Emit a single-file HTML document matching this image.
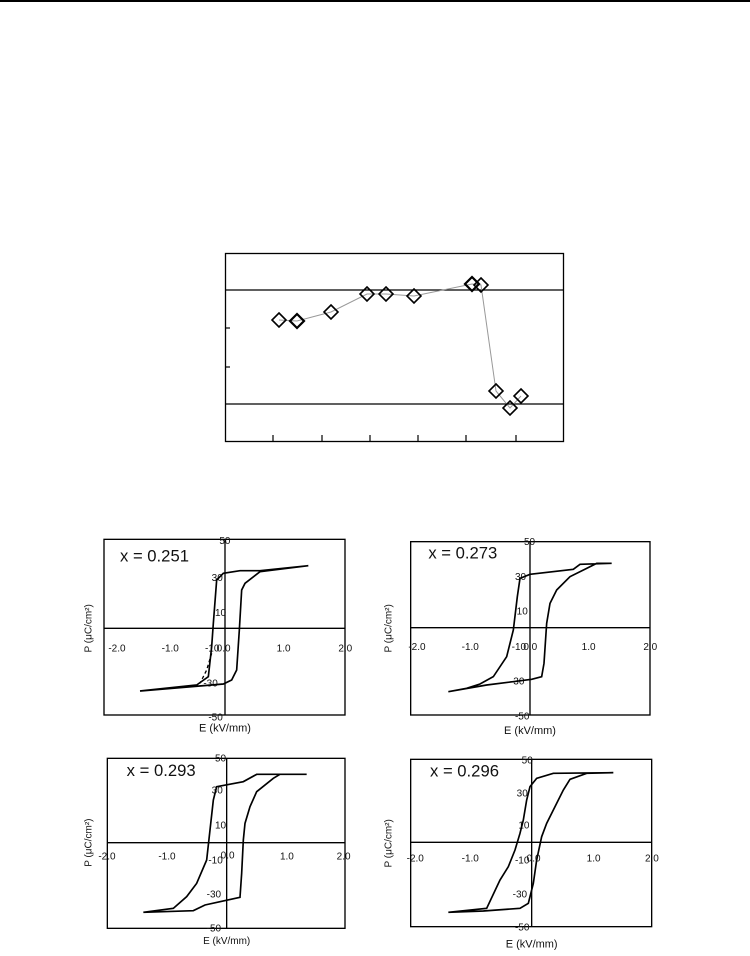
<!DOCTYPE html>
<html><head><meta charset="utf-8"><style>
html,body{margin:0;padding:0;background:#fff;width:750px;height:956px;overflow:hidden}
svg{display:block}
text{font-family:"Liberation Sans",sans-serif;fill:#111}
</style></head><body>
<svg width="750" height="956" viewBox="0 0 750 956" xmlns="http://www.w3.org/2000/svg">
<line x1="0" y1="1" x2="750" y2="1" stroke="#000" stroke-width="2"/>
<!-- top chart -->
<rect x="225.5" y="253.5" width="338" height="188" fill="none" stroke="#000" stroke-width="1.3"/>
<line x1="225" y1="290" x2="564" y2="290" stroke="#000" stroke-width="1.3"/>
<line x1="225" y1="404" x2="564" y2="404" stroke="#000" stroke-width="1.3"/>
<g stroke="#000" stroke-width="1.2">
<line x1="225" y1="328" x2="230" y2="328"/><line x1="225" y1="367" x2="230" y2="367"/>
<line x1="273" y1="441" x2="273" y2="435"/><line x1="322" y1="441" x2="322" y2="435"/>
<line x1="370" y1="441" x2="370" y2="435"/><line x1="418" y1="441" x2="418" y2="435"/>
<line x1="466" y1="441" x2="466" y2="435"/><line x1="516" y1="441" x2="516" y2="435"/>
</g>
<polyline points="279,320 297,321 331,312 367,294 386,294 414,296 472,284 481,285 496,391 510,408 521,396" fill="none" stroke="#999" stroke-width="1"/>
<g fill="none" stroke="#000" stroke-width="1.6">
<path d="M279,313 l7,7 l-7,7 l-7,-7z"/>
<path d="M297,314 l7,7 l-7,7 l-7,-7z" stroke-width="2.2"/>
<path d="M331,305 l7,7 l-7,7 l-7,-7z"/>
<path d="M367,287 l7,7 l-7,7 l-7,-7z"/>
<path d="M386,287 l7,7 l-7,7 l-7,-7z"/>
<path d="M414,289 l7,7 l-7,7 l-7,-7z"/>
<path d="M472,277 l7,7 l-7,7 l-7,-7z" stroke-width="2.2"/>
<path d="M481,278 l7,7 l-7,7 l-7,-7z"/>
<path d="M496,384 l7,7 l-7,7 l-7,-7z"/>
<path d="M510,401 l7,7 l-7,7 l-7,-7z"/>
<path d="M521,389 l7,7 l-7,7 l-7,-7z"/>
</g>

<!-- Panel 1 -->
<g transform="translate(80,530) scale(0.33333)">
<rect x="72" y="28" width="723" height="527" fill="none" stroke="#000" stroke-width="4"/>
<line x1="435" y1="28" x2="435" y2="555" stroke="#000" stroke-width="4"/>
<line x1="72" y1="295" x2="795" y2="295" stroke="#000" stroke-width="4"/>
<text x="120" y="95" font-size="50">x = 0.251</text>
<g font-size="30"><text x="418" y="42">50</text><text x="395" y="153">30</text><text x="405" y="258">10</text><text x="375" y="365">-10</text><text x="410" y="365">0.0</text><text x="370" y="470">-30</text><text x="385" y="572">-50</text>
<text x="85" y="365">-2.0</text><text x="245" y="365">-1.0</text><text x="590" y="365">1.0</text><text x="775" y="365">2.0</text></g>
<text x="435" y="605" font-size="33" text-anchor="middle">E (kV/mm)</text>
<text transform="translate(35,295) rotate(-90)" font-size="30" text-anchor="middle">P (μC/cm²)</text>
<path d="M685,107 L540,122 L480,122 L430,130 L410,150 L400,280 L395,350 L385,440 L350,465 L180,483 M180,483 L430,462 L455,450 L470,420 L478,300 L485,180 L495,160 L540,125 L685,107" fill="none" stroke="#000" stroke-width="5"/>
<path d="M395,370 L380,420 L360,460" fill="none" stroke="#000" stroke-width="4" stroke-dasharray="10,8"/>
</g>

<!-- Panel 2 -->
<g transform="translate(380,530) scale(0.33333)">
<rect x="92" y="35" width="718" height="520" fill="none" stroke="#000" stroke-width="4"/>
<line x1="450" y1="35" x2="450" y2="555" stroke="#000" stroke-width="4"/>
<line x1="92" y1="293" x2="810" y2="293" stroke="#000" stroke-width="4"/>
<text x="145" y="85" font-size="50">x = 0.273</text>
<g font-size="30"><text x="432" y="45">50</text><text x="405" y="150">30</text><text x="410" y="253">10</text><text x="395" y="360">-10</text><text x="430" y="360">0.0</text><text x="390" y="463">-30</text><text x="405" y="568">-50</text>
<text x="85" y="360">-2.0</text><text x="245" y="360">-1.0</text><text x="605" y="360">1.0</text><text x="790" y="360">2.0</text></g>
<text x="450" y="612" font-size="33" text-anchor="middle">E (kV/mm)</text>
<text transform="translate(35,295) rotate(-90)" font-size="30" text-anchor="middle">P (μC/cm²)</text>
<path d="M695,100 L600,103 L580,118 L450,133 L420,145 L412,200 L400,300 L380,380 L340,440 L300,462 L260,475 L205,485 M205,485 L320,465 L455,448 L485,440 L492,400 L500,280 L510,220 L530,180 L570,140 L620,115 L650,100 L695,100" fill="none" stroke="#000" stroke-width="5"/>
</g>

<!-- Panel 3 -->
<g transform="translate(80,740) scale(0.33333)">
<rect x="82" y="55" width="713" height="510" fill="none" stroke="#000" stroke-width="4"/>
<line x1="440" y1="55" x2="440" y2="565" stroke="#000" stroke-width="4"/>
<line x1="82" y1="308" x2="795" y2="308" stroke="#000" stroke-width="4"/>
<text x="140" y="108" font-size="50">x = 0.293</text>
<g font-size="30"><text x="405" y="65">50</text><text x="395" y="160">30</text><text x="405" y="265">10</text><text x="385" y="370">-10</text><text x="422" y="355">0.0</text><text x="380" y="472">-30</text><text x="380" y="575">-50</text>
<text x="55" y="358">-2.0</text><text x="235" y="358">-1.0</text><text x="600" y="358">1.0</text><text x="770" y="358">2.0</text></g>
<text x="440" y="612" font-size="30" text-anchor="middle">E (kV/mm)</text>
<text transform="translate(35,308) rotate(-90)" font-size="30" text-anchor="middle">P (μC/cm²)</text>
<path d="M680,103 L530,103 L490,125 L410,140 L400,180 L390,270 L380,360 L350,430 L320,470 L280,505 L190,517 M190,517 L340,512 L375,495 L420,485 L480,472 L485,400 L490,300 L495,250 L510,200 L530,155 L580,115 L600,103 L680,103" fill="none" stroke="#000" stroke-width="5"/>
</g>

<!-- Panel 4 -->
<g transform="translate(380,740) scale(0.33333)">
<rect x="92" y="58" width="723" height="502" fill="none" stroke="#000" stroke-width="4"/>
<line x1="455" y1="58" x2="455" y2="560" stroke="#000" stroke-width="4"/>
<line x1="92" y1="307" x2="815" y2="307" stroke="#000" stroke-width="4"/>
<text x="150" y="110" font-size="50">x = 0.296</text>
<g font-size="30"><text x="425" y="70">50</text><text x="410" y="170">30</text><text x="415" y="265">10</text><text x="405" y="370">-10</text><text x="440" y="365">0.0</text><text x="398" y="472">-30</text><text x="405" y="572">-50</text>
<text x="80" y="365">-2.0</text><text x="245" y="365">-1.0</text><text x="620" y="365">1.0</text><text x="795" y="365">2.0</text></g>
<text x="455" y="622" font-size="33" text-anchor="middle">E (kV/mm)</text>
<text transform="translate(35,310) rotate(-90)" font-size="30" text-anchor="middle">P (μC/cm²)</text>
<path d="M700,98 L520,100 L470,115 L450,140 L440,180 L430,240 L420,280 L405,330 L385,380 L360,420 L320,505 L205,517 M205,517 L310,513 L420,505 L445,490 L455,450 L460,430 L470,360 L485,290 L500,250 L520,210 L550,150 L570,118 L620,100 L700,98" fill="none" stroke="#000" stroke-width="5"/>
</g>
</svg>
</body></html>
